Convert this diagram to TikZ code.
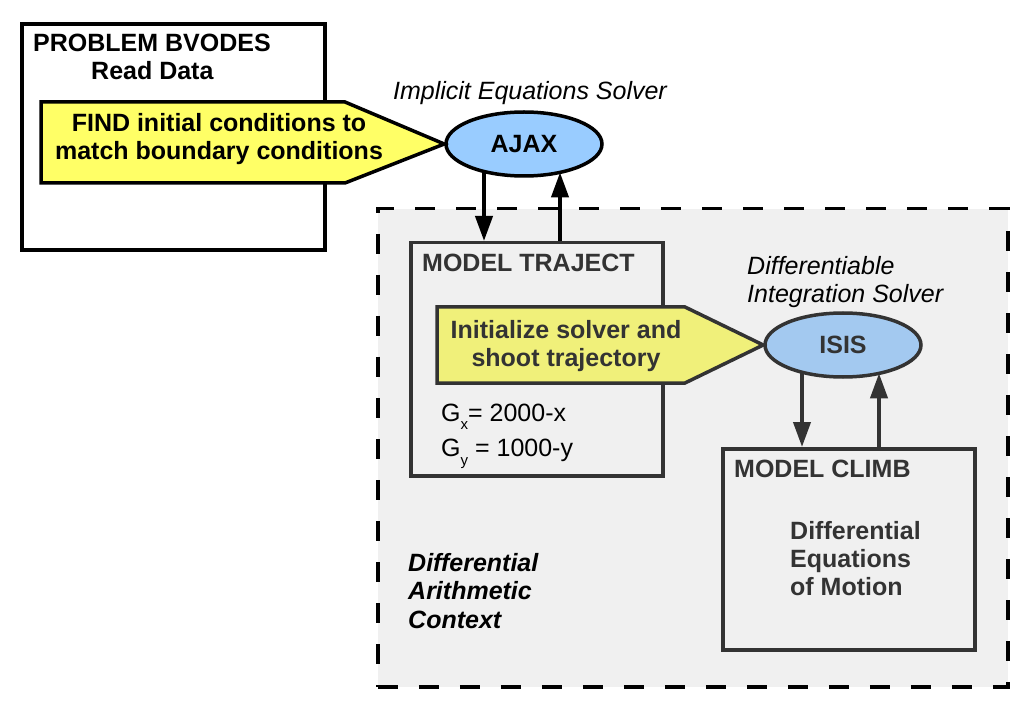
\documentclass[tikz,border=0pt]{standalone}
\usepackage{fontspec}
\setmainfont{Liberation Sans}
\usetikzlibrary{shapes.geometric,arrows.meta,calc}
\definecolor{yelA}{HTML}{FFFF66}
\definecolor{yelB}{HTML}{F0F07A}
\definecolor{bluA}{HTML}{99CCFF}
\definecolor{bluB}{HTML}{A3C9F0}
\definecolor{bgGrey}{HTML}{F0F0F0}
\definecolor{dk}{HTML}{333333}
\begin{document}
\begin{tikzpicture}[x=1pt,y=-1pt,
  txt/.style={font=\fontsize{25}{28}\selectfont, inner sep=0, align=left},
  btxt/.style={font=\fontsize{25}{28}\selectfont\bfseries, inner sep=0},
  itxt/.style={font=\fontsize{25}{28}\selectfont\itshape, inner sep=0, align=left},
  boxA/.style={draw, line width=4, inner sep=0, anchor=north west},
  boxB/.style={draw=dk, line width=3.5, inner sep=0, anchor=north west},
  solver/.style={ellipse, draw, line width=3.5, inner sep=0, minimum width=156, minimum height=64},
  arr/.style={line width=4, -{Triangle[length=25pt,width=17pt]}},
]
\useasboundingbox (0,0) rectangle (1031,711);

% left problem box
\node[boxA, minimum width=303, minimum height=226] (prob) at (20,22) {};
\node[btxt, anchor=base west] (probt) at (33,52) {PROBLEM BVODES};
\node[btxt, anchor=base west] (readt) at (91,80) {Read Data};

% dashed context region
\node[draw, fill=bgGrey, line width=3.5, dash pattern=on 20pt off 21pt, inner sep=0,
      anchor=north west, minimum width=630, minimum height=478] (ctx) at (376,207) {};

% AJAX solver
\node[solver, fill=bluA] (ajax) at (524,144) {};
\node[btxt] (ajaxt) at (ajax.center) {AJAX};
\node[itxt] (implt) at (530,93) {Implicit Equations Solver};

% yellow FIND pentagon
\draw[line width=3.5, fill=yelA] (41,102) -- (345,102) -- (ajax.west) -- (345,183) -- (41,183) -- cycle;
\node[btxt, align=center] (find) at (219,139) {FIND initial conditions to\\match boundary conditions};

% MODEL TRAJECT box
\node[boxB, minimum width=252, minimum height=233] (traj) at (409,241) {};
\node[btxt, text=dk, anchor=base west] (trajt) at (422,272) {MODEL TRAJECT};

% ISIS solver
\node[solver, draw=dk, fill=bluB] (isis) at (843,345) {};
\node[btxt, text=dk] (isist) at (isis.center) {ISIS};
\node[itxt, anchor=west] (difft) at (747,282) {Differentiable\\Integration Solver};

% yellow initialize pentagon
\draw[line width=3.5, draw=dk, fill=yelB] (437,307) -- (685,307) -- (isis.west) -- (685,383) -- (437,383) -- cycle;
\node[btxt, text=dk, align=center] (init) at (566,346) {Initialize solver and\\shoot trajectory};

% G equations
\node[txt, anchor=base west] (gx) at (441,421) {G\raisebox{-8pt}{\fontsize{15}{15}\selectfont x}= 2000-x};
\node[txt, anchor=base west] (gy) at (441,456) {G\raisebox{-9pt}{\fontsize{15}{15}\selectfont y} = 1000-y};

% MODEL CLIMB box
\node[boxB, minimum width=252, minimum height=201] (climb) at (721,447) {};
\node[btxt, text=dk, anchor=base west] (climbt) at (734,477) {MODEL CLIMB};
\node[btxt, text=dk, anchor=west, align=left] (motion) at (790,559) {Differential\\Equations\\of Motion};

% context label
\node[btxt, anchor=west, align=left, font=\fontsize{25}{28.5}\selectfont\bfseries\itshape] (ctxt) at (408,591) {Differential\\Arithmetic\\Context};

% arrows AJAX <-> TRAJ
\coordinate (a1) at ($(ajax.center)+(-40,27.5)$);
\coordinate (a2) at ($(ajax.center)+(36,28.4)$);
\draw[arr] (a1) -- (a1 |- traj.north);
\draw[arr] (a2 |- traj.north) -- (a2);

% arrows ISIS <-> CLIMB
\coordinate (b1) at ($(isis.center)+(-41,27.1)$);
\coordinate (b2) at ($(isis.center)+(36,28.3)$);
\draw[arr, draw=dk, fill=dk] (b1) -- (b1 |- climb.north);
\draw[arr, draw=dk, fill=dk] (b2 |- climb.north) -- (b2);
\end{tikzpicture}
\end{document}
